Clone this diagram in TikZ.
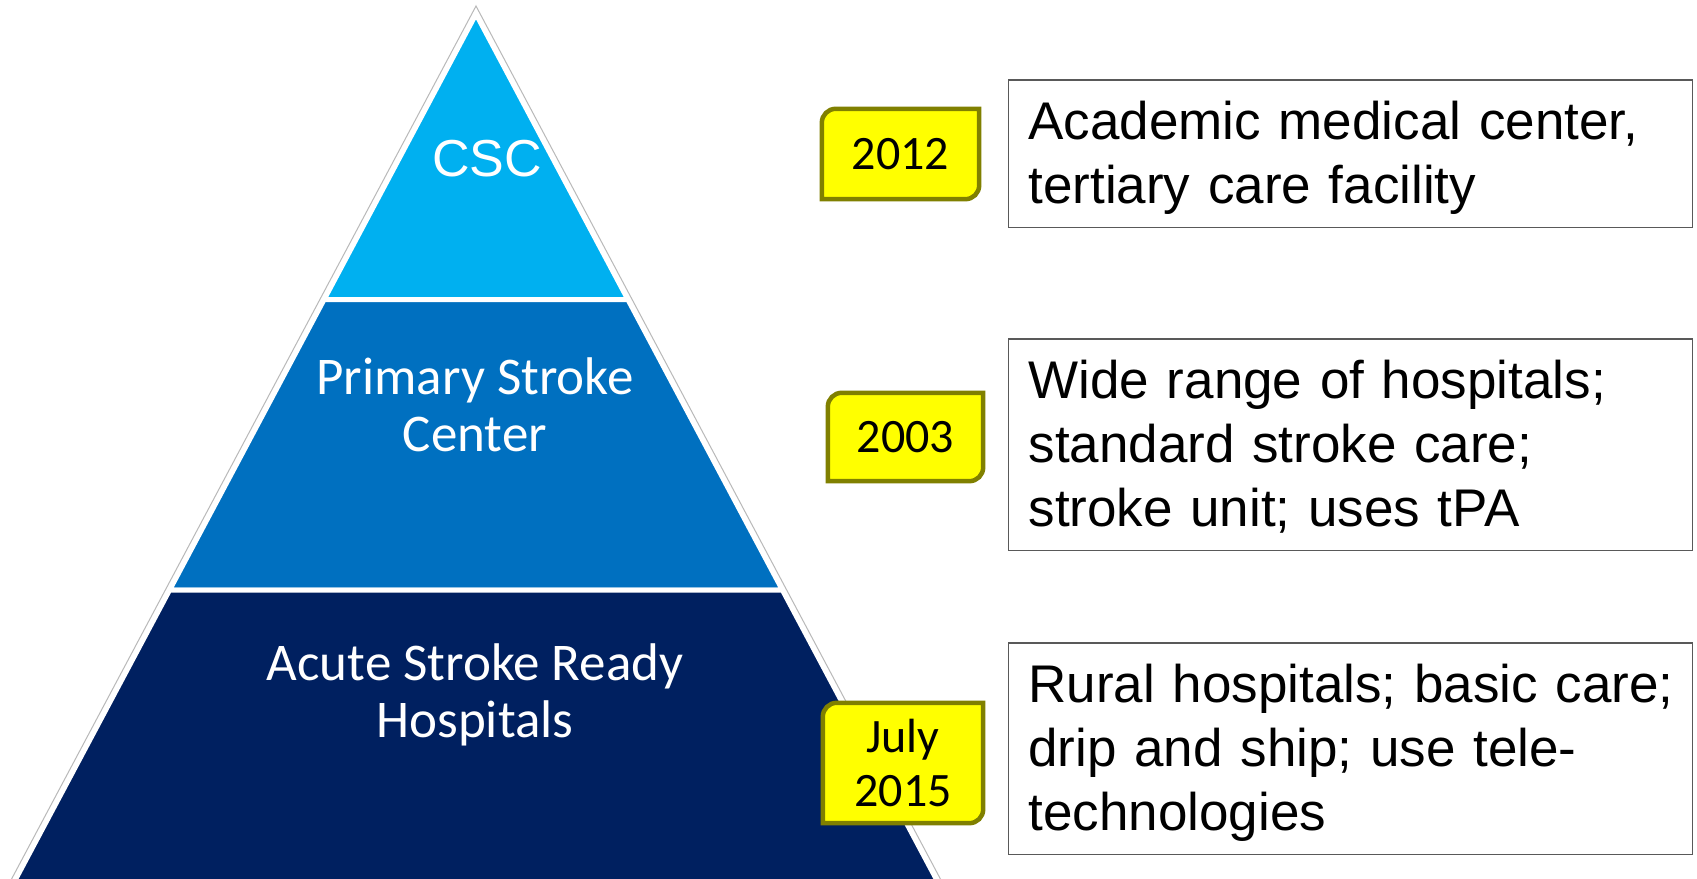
\documentclass[tikz,border=0pt]{standalone}
\usepackage{fontspec}
\setmainfont{Liberation Sans}
\newfontfamily\calibri{Carlito}
\usetikzlibrary{calc,backgrounds}
\pgfdeclarelayer{mid}
\pgfsetlayers{background,mid,main}
\definecolor{cscblue}{HTML}{00B0F0}
\definecolor{pscblue}{HTML}{0070C0}
\definecolor{asrblue}{HTML}{002060}
\definecolor{yfill}{HTML}{FFFF00}
\definecolor{yline}{HTML}{808000}
\definecolor{boxline}{HTML}{595959}
\newcommand\drawyearbox[1]{%
  \draw[ybox] ($(#1.north west)+(0,14)$) .. controls ($(#1.north west)+(0,6.2)$) and ($(#1.north west)+(6.2,0)$) .. ($(#1.north west)+(14,0)$)
    -- (#1.north east) -- ($(#1.south east)+(0,-14)$) .. controls ($(#1.south east)+(0,-6.2)$) and ($(#1.south east)+(-6.2,0)$) .. ($(#1.south east)+(-14,0)$)
    -- (#1.south west) -- cycle;}
\newcommand\topstrut{\rule{0pt}{47pt}}
\begin{document}
\begin{tikzpicture}[x=1pt,y=-1pt,
  tier/.style={draw=white,line width=5pt,line join=miter},
  yearnode/.style={inner sep=0pt,font=\calibri\fontsize{48}{54}\selectfont,align=center},
  ybox/.style={fill=yfill,draw=yline,line width=4.5pt},
  descbox/.style={draw=boxline,line width=1.5pt,minimum width=684pt,text width=644pt,inner xsep=20pt,inner ysep=0pt,align=left,font=\fontsize{53}{64}\selectfont},
  tiertext/.style={text=white,font=\calibri\fontsize{53}{57}\selectfont,align=center,inner sep=0pt}]
\useasboundingbox (0,0) rectangle (1697,878);
\begin{scope}[on background layer]
  \clip (0,0) rectangle (1697,878);
  \fill[white] (0,0) rectangle (1697,878);
  \draw[tier,fill=cscblue] (476,14) -- (627.9,299.5) -- (324.1,299.5) -- cycle;
  \draw[tier,fill=pscblue] (324.1,299.5) -- (627.9,299.5) -- (782.4,590) -- (169.6,590) -- cycle;
  \draw[tier,fill=asrblue] (169.6,590) -- (782.4,590) -- (947.4,900) -- (4.6,900) -- cycle;
  \draw[gray!55,line width=1pt] (0.4,900) -- (476,6) -- (951.6,900);
\end{scope}
% tier labels
\node[tiertext,font=\fontsize{52}{57}\selectfont] (csc) at (487,159) {CSC};
\node[tiertext] (psc) at (475,404.5) {Primary Stroke\\Center};
\node[tiertext] (asr) at (475,694.5) {Acute Stroke Ready\\Hospitals};
% year boxes
\node[yearnode,minimum width=157pt,minimum height=90pt] (y1) at (900.5,154) {2012};
\node[yearnode,minimum width=155pt,minimum height=88pt] (y2) at (905.5,437) {2003};
\node[yearnode,minimum width=160pt,minimum height=120pt] (y3) at (903,763) {July\\2015};
\begin{pgfonlayer}{mid}
  \drawyearbox{y1}
  \drawyearbox{y2}
  \drawyearbox{y3}
\end{pgfonlayer}
% description boxes
\node[descbox,minimum height=147.5pt] (d1) at (1350.5,153.5) {\topstrut\mbox{Academic medical center,}\\\mbox{tertiary care facility}};
\node[descbox,minimum height=211.5pt] (d2) at (1350.5,444.5) {\rule{0pt}{43pt}\mbox{Wide range of hospitals;}\\\mbox{standard stroke care;}\\\mbox{stroke unit; uses tPA}};
\node[descbox,minimum height=211.5pt] (d3) at (1350.5,748.5) {\topstrut\mbox{Rural hospitals; basic care;}\\\mbox{drip and ship; use tele-}\\\mbox{technologies}};
\end{tikzpicture}
\end{document}
